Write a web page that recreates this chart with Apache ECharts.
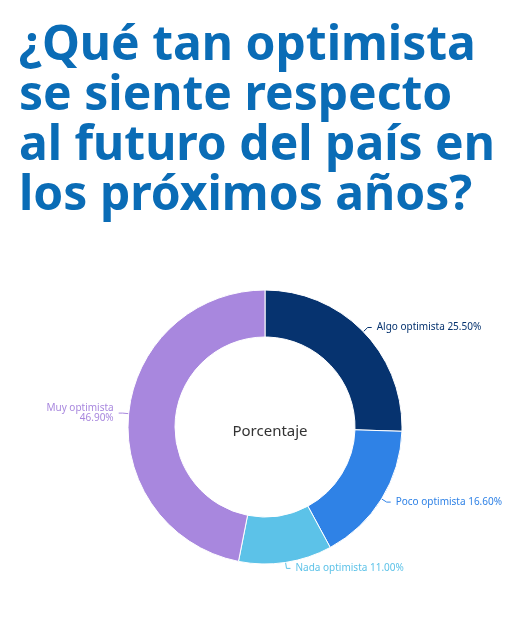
<!DOCTYPE html>
<html>
<head>
<meta charset="utf-8">
<script src="https://cdn.jsdelivr.net/npm/echarts@6/dist/echarts.min.js"></script>
<style>
html,body{margin:0;padding:0;background:#fff;}
#chart{width:529px;height:619px;}
</style>
</head>
<body>
<div id="chart"></div>
<script>
var categories = ['Algo optimista', 'Poco optimista', 'Nada optimista', 'Muy optimista'];
var values = [25.5, 16.6, 11.0, 46.9];
var colors = ['#06336f', '#2f82e6', '#5cc2e8', '#a887de'];

var chart = echarts.init(document.getElementById('chart'));
chart.setOption({
	title: [{
		text: '¿Qué tan optimista\nse siente respecto\nal futuro del país en\nlos próximos años?',
		left: 14, top: 16,
		textStyle: {color: '#0a6cb6', fontSize: 48, fontWeight: 'bold', fontFamily: 'Noto Sans', lineHeight: 50}
	}, {
		text: 'Porcentaje',
		left: 265, top: 427, textAlign: 'center', textVerticalAlign: 'middle',
		textStyle: {color: '#333', fontSize: 15, fontWeight: 'normal', fontFamily: 'Noto Sans'}
	}],
	series: [{
		type: 'pie',
		center: [265, 427],
		radius: [90, 137],
		startAngle: 90,
		clockwise: true,
		itemStyle: {borderColor: '#fff', borderWidth: 1},
		label: {
			fontSize: 10, fontFamily: 'Noto Sans',
			formatter: function (p) {
				return p.name === 'Muy optimista' ? p.name + '\n' + p.value.toFixed(2) + '%' : p.name + ' ' + p.value.toFixed(2) + '%';
			}
		},
		labelLine: {length: 6, length2: 4},
		data: categories.map(function (c, i) {
			return {name: c, value: values[i], itemStyle: {color: colors[i]}, label: {color: colors[i]}, labelLine: {lineStyle: {color: colors[i]}}};
		})
	}]
});
</script>
</body>
</html>
